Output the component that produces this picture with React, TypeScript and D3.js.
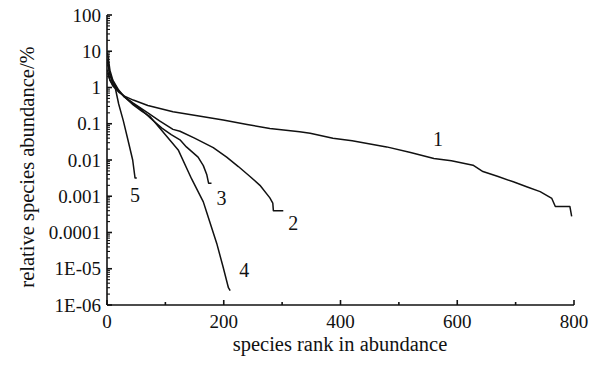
import { useEffect, useRef } from 'react'
import * as d3 from 'd3'

// rank-abundance curves: [rank, relative abundance %]
const curve1: [number, number][] = [
  [1, 3], [5, 1.6], [10, 1.1], [20, 0.75], [30, 0.58], [45, 0.45], [70, 0.32], [113, 0.215],
  [160, 0.16], [199, 0.126], [240, 0.095], [279, 0.074], [330, 0.06], [348, 0.055], [387, 0.04],
  [420, 0.034], [479, 0.023], [520, 0.016], [560, 0.011], [590, 0.0095], [627, 0.0072],
  [644, 0.0048], [670, 0.0035], [696, 0.0025], [720, 0.0018], [742, 0.00134], [762, 0.00087],
  [768, 0.00052], [793, 0.00052], [796, 0.00028],
]
const curve2: [number, number][] = [
  [1, 5], [5, 2.2], [10, 1.3], [20, 0.8], [30, 0.55], [45, 0.37], [70, 0.2], [90, 0.12],
  [113, 0.07], [125, 0.062], [150, 0.04], [182, 0.022], [205, 0.012], [225, 0.0066],
  [245, 0.0035], [262, 0.002], [279, 0.0009], [284, 0.00065], [285, 0.0004], [302, 0.0004],
]
const curve3: [number, number][] = [
  [1, 6], [5, 2.5], [10, 1.4], [20, 0.8], [30, 0.55], [45, 0.35], [56, 0.27], [75, 0.14],
  [94, 0.076], [110, 0.05], [125, 0.036], [136, 0.023], [156, 0.012], [165, 0.007],
  [171, 0.0039], [174, 0.0023], [179, 0.0023],
]
const curve4: [number, number][] = [
  [1, 9], [5, 3], [10, 1.6], [20, 0.85], [30, 0.55], [45, 0.33], [60, 0.22], [74, 0.157],
  [100, 0.05], [122, 0.019], [145, 0.003], [165, 0.0007], [171, 0.00035], [188, 5e-5],
  [199, 1.1e-5], [208, 3e-6], [211, 2.5e-6],
]
const curve5: [number, number][] = [
  [1, 2.5], [5, 1.6], [10, 1.2], [14, 1.0], [20, 0.35], [28, 0.12], [36, 0.035], [44, 0.01],
  [48, 0.0032], [51, 0.0032],
]
const curves = [curve1, curve2, curve3, curve4, curve5]

const curveLabels = ['1', '2', '3', '4', '5']
const labelAt: [number, number][] = [[567, 0.037], [319, 1.8e-4], [196, 8.9e-4], [235, 9.5e-6], [48, 1.07e-3]]

const yTickValues = [100, 10, 1, 0.1, 0.01, 0.001, 0.0001, 1e-5, 1e-6]
const yTickLabels = ['100', '10', '1', '0.1', '0.01', '0.001', '0.0001', '1E-05', '1E-06']
const xTickValues = [0, 200, 400, 600, 800]
const xMinorTicks = [100, 300, 500, 700]

export default function App() {
  const svgRef = useRef<SVGSVGElement | null>(null)

  useEffect(() => {
    if (!svgRef.current) return
    const svg = d3.select(svgRef.current)
    svg.selectAll('*').remove()

    const font = "'Liberation Serif', 'DejaVu Serif', serif"
    const x = d3.scaleLinear().domain([0, 800]).range([107, 574])
    const y = d3.scaleLog().domain([1e-6, 100]).range([305, 15])

    svg.append('rect').attr('width', 607).attr('height', 368).attr('fill', '#fff')

    // curves
    const line = d3.line<[number, number]>().x(d => x(d[0])).y(d => y(d[1]))
    curves.forEach(c => {
      svg.append('path').datum(c).attr('d', line)
        .attr('fill', 'none').attr('stroke', '#111').attr('stroke-width', 1.5)
        .attr('stroke-linejoin', 'round')
    })

    // axes
    const ax = svg.append('g').attr('stroke', '#111').attr('stroke-width', 1.6)
    ax.append('line').attr('x1', x(0)).attr('x2', x(800)).attr('y1', y(1e-6)).attr('y2', y(1e-6))
    ax.append('line').attr('x1', x(0)).attr('x2', x(0)).attr('y1', y(1e-6)).attr('y2', y(100))

    xTickValues.forEach(v => {
      ax.append('line').attr('x1', x(v)).attr('x2', x(v)).attr('y1', y(1e-6)).attr('y2', y(1e-6) - 5)
    })
    xMinorTicks.forEach(v => {
      ax.append('line').attr('x1', x(v)).attr('x2', x(v)).attr('y1', y(1e-6)).attr('y2', y(1e-6) - 3)
    })
    yTickValues.forEach(v => {
      ax.append('line').attr('x1', x(0)).attr('x2', x(0) + 5).attr('y1', y(v)).attr('y2', y(v))
    })
    yTickValues.slice(1).forEach(d => {
      d3.range(2, 10).forEach(k => {
        const v = d * k
        ax.append('line').attr('x1', x(0)).attr('x2', x(0) + 3).attr('y1', y(v)).attr('y2', y(v))
          .attr('stroke-width', 1.1)
      })
    })

    // tick labels
    yTickValues.forEach((v, i) => {
      svg.append('text').attr('x', 101).attr('y', y(v)).attr('dy', '0.35em')
        .attr('text-anchor', 'end').style('font-family', font).attr('font-size', 19)
        .attr('fill', '#111').text(yTickLabels[i])
    })
    xTickValues.forEach(v => {
      svg.append('text').attr('x', x(v)).attr('y', 328)
        .attr('text-anchor', 'middle').style('font-family', font).attr('font-size', 19)
        .attr('fill', '#111').text(String(v))
    })

    // curve labels
    labelAt.forEach((p, i) => {
      svg.append('text').attr('x', x(p[0])).attr('y', y(p[1])).attr('dy', '0.35em')
        .attr('text-anchor', 'middle').style('font-family', font).attr('font-size', 20)
        .attr('fill', '#111').text(curveLabels[i])
    })

    // titles
    svg.append('text').attr('x', 340).attr('y', 351)
      .attr('text-anchor', 'middle').style('font-family', font).attr('font-size', 20.5)
      .attr('fill', '#111').text('species rank in abundance')
    svg.append('text').attr('transform', 'translate(34,167) rotate(-90)')
      .attr('text-anchor', 'middle').style('font-family', font).attr('font-size', 20.5)
      .attr('fill', '#111').text('relative species abundance/%')
  }, [])

  return (
    <svg ref={svgRef} width={607} height={368} viewBox="0 0 607 368"
      style={{ position: 'absolute', left: 0, top: 0, display: 'block' }} />
  )
}
